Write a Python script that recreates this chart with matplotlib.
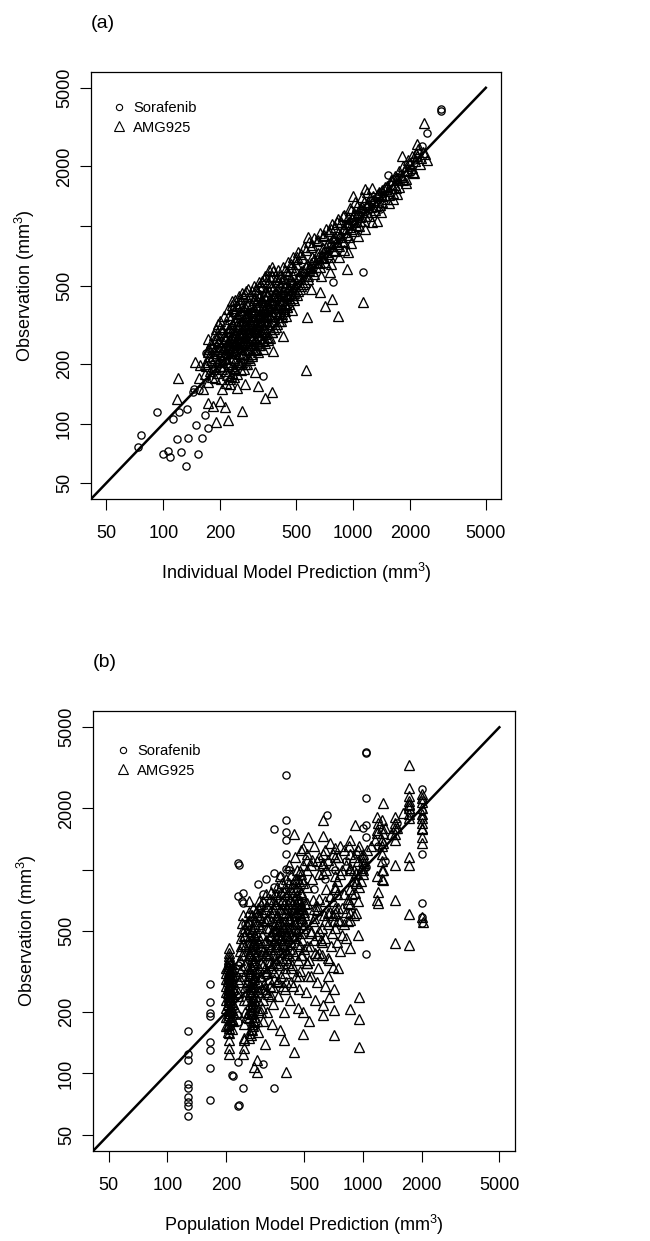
import numpy as np
import matplotlib
matplotlib.use("Agg")
import matplotlib.pyplot as plt
from matplotlib.lines import Line2D

plt.rcParams['font.family'] = ['Liberation Sans', 'DejaVu Sans']
plt.rcParams['mathtext.fontset'] = 'custom'
plt.rcParams['mathtext.rm'] = 'Liberation Sans'
plt.rcParams['mathtext.it'] = 'Liberation Sans'

ticks = [50, 100, 200, 500, 1000, 2000, 5000]
x_tick_labels = ['50', '100', '200', '500', '1000', '2000', '5000']
y_tick_labels = ['50', '100', '200', '500', '', '2000', '5000']

# panel (a): individual prediction vs observation
a_sorafenib = [
    (93, 115), (76, 88), (74, 76), (112, 106), (121, 114), (134, 118), (144, 144), (118, 84),
    (135, 85), (106, 73), (100, 70), (108, 68), (124, 72), (132, 61), (153, 70), (159, 85),
    (149, 98), (172, 95), (166, 111), (336, 175), (168, 227), (233, 366), (348, 545), (1126, 584),
    (783, 520), (2455, 2970), (2900, 3900), (2920, 3820), (2313, 2540), (2025, 1880), (1530, 1810),
    (1385, 1220), (145, 150), (155, 148), (180, 200), (190, 215), (205, 190), (215, 240), (225, 260),
    (240, 230), (250, 300), (260, 280), (275, 330), (290, 310), (300, 360), (320, 340), (340, 400),
    (360, 380), (400, 430), (430, 470), (470, 520), (520, 560), (600, 620), (700, 720), (800, 850),
    (900, 950), (1000, 1050), (1200, 1250), (1400, 1480), (1700, 1760), (2100, 2150), (2200, 2350),
    (230, 270), (255, 240), (280, 280), (305, 300), (330, 350), (350, 320), (380, 400), (420, 380),
    (460, 480), (500, 500), (550, 580), (650, 680), (750, 760), (850, 880), (950, 1000),
]
a_amg925 = [
    # scattered points
    (2365, 3334), (2172, 2606), (1811, 2266), (1622, 1371), (1337, 1059), (1156, 1541), (1000, 1420),
    (942, 738), (930, 605), (1130, 411), (834, 349), (713, 393), (775, 426), (670, 462), (580, 879),
    (757, 584), (270, 452), (231, 416), (398, 551), (507, 696), (261, 393), (573, 345), (566, 186),
    (379, 232), (428, 277), (316, 156), (344, 135), (375, 145), (261, 116), (220, 104), (190, 102),
    (120, 171), (118, 134), (147, 204), (155, 171), (173, 128), (183, 123), (200, 131), (212, 121),
    (305, 182), (270, 158), (245, 152), (225, 158), (195, 318), (171, 267), (157, 199), (171, 238),
    # dense cloud
    (162, 150), (165, 178), (168, 196), (172, 162), (176, 185), (178, 210), (181, 172), (184, 228),
    (186, 194), (189, 246), (191, 180), (194, 205), (197, 262), (199, 222), (202, 168), (204, 190),
    (206, 238), (208, 278), (211, 212), (213, 250), (215, 184), (218, 296), (220, 228), (222, 200),
    (224, 265), (226, 175), (228, 310), (230, 244), (232, 214), (234, 282), (236, 192), (238, 330),
    (240, 258), (242, 228), (244, 300), (246, 205), (248, 348), (250, 272), (252, 240), (254, 318),
    (256, 186), (258, 365), (260, 288), (262, 252), (264, 224), (266, 336), (268, 200), (270, 390),
    (272, 305), (274, 266), (276, 238), (278, 352), (280, 215), (283, 410), (285, 322), (287, 282),
    (290, 250), (292, 370), (294, 226), (297, 300), (300, 430), (302, 340), (305, 268), (308, 236),
    (310, 390), (313, 312), (316, 280), (319, 250), (322, 360), (325, 450), (328, 296), (331, 412),
    (334, 262), (337, 335), (340, 380), (344, 300), (348, 470), (352, 350), (356, 275), (360, 420),
    (364, 320), (368, 385), (372, 290), (376, 495), (380, 352), (385, 440), (390, 310), (395, 400),
    (400, 520), (405, 365), (410, 470), (415, 330), (420, 420), (425, 545), (430, 380), (436, 490),
    (442, 350), (448, 440), (455, 570), (462, 405), (470, 510), (478, 375), (486, 460), (495, 600),
    (196, 240), (206, 260), (216, 205), (226, 290), (236, 250), (246, 270), (256, 300), (266, 260),
    (276, 290), (286, 330), (296, 275), (306, 305), (316, 345), (326, 330), (336, 360), (346, 330),
    (356, 390), (366, 350), (376, 410), (386, 370), (396, 440), (188, 215), (198, 195), (208, 225),
    (218, 245), (228, 232), (238, 280), (248, 255), (258, 275), (268, 320), (278, 265), (288, 300),
    (298, 355), (308, 290), (318, 320), (328, 375), (338, 310), (350, 400), (362, 360), (374, 330),
    (392, 460), (408, 420), (424, 470), (440, 400), (460, 455), (480, 430), (250, 225), (260, 205),
    (240, 190), (230, 180), (280, 235), (300, 255), (320, 280), (340, 270), (270, 350), (290, 395),
    (310, 420), (265, 375), (245, 320), (225, 340), (215, 270), (205, 290), (195, 280), (185, 265),
    (175, 240), (200, 310), (255, 410), (235, 370),
    (182, 188), (187, 170), (192, 232), (195, 258), (201, 245), (203, 210), (209, 196), (212, 268),
    (214, 230), (217, 176), (219, 262), (221, 306), (223, 242), (225, 215), (227, 275), (229, 195),
    (231, 320), (233, 262), (235, 232), (237, 298), (239, 210), (241, 345), (243, 275), (245, 245),
    (247, 312), (249, 200), (251, 358), (253, 288), (255, 258), (257, 330), (259, 225), (261, 378),
    (263, 305), (265, 270), (267, 240), (269, 345), (271, 285), (273, 215), (275, 400), (277, 315),
    (279, 250), (281, 365), (284, 290), (286, 240), (288, 345), (291, 270), (293, 405), (295, 320),
    (298, 240), (301, 380), (303, 290), (306, 350), (309, 262), (311, 325), (314, 400), (317, 300),
    (320, 360), (323, 270), (326, 420), (329, 320), (332, 290), (335, 390), (339, 345), (342, 430),
    (345, 285), (349, 370), (353, 320), (357, 450), (361, 390), (365, 300), (369, 420), (373, 360),
    (377, 450), (382, 330), (387, 405), (392, 370), (397, 480), (402, 345), (407, 440), (412, 390),
    (418, 500), (423, 360), (429, 450), (435, 410), (441, 520), (447, 390), (453, 480), (459, 430),
    (466, 540), (473, 460), (480, 520), (488, 420), (496, 500),
    (170, 205), (175, 220), (180, 245), (185, 280), (190, 300), (200, 330), (210, 350), (220, 380),
    (230, 400), (240, 420), (250, 440), (260, 460), (280, 480), (300, 500), (320, 520), (340, 540),
    (360, 560), (380, 590), (165, 200), (172, 230), (178, 255), (192, 270), (203, 300), (213, 320),
    (223, 355), (233, 385), (243, 395), (253, 425), (263, 445), (273, 470), (285, 440), (295, 470),
    (308, 480), (318, 500), (330, 530), (345, 560), (360, 600), (375, 620), (205, 150), (215, 160),
    (225, 168), (235, 172), (245, 178), (255, 200), (265, 190), (275, 200), (285, 210), (295, 220),
    (305, 240), (315, 230), (325, 250), (335, 240), (345, 255), (355, 265), (365, 270), (375, 290),
    (385, 300), (395, 320), (405, 330), (420, 345), (435, 370), (450, 390), (465, 420), (480, 450),
    (495, 470),
    # upper band
    (505, 450), (514, 540), (523, 480), (533, 590), (543, 510), (553, 560), (563, 620), (575, 540),
    (587, 600), (599, 650), (612, 590), (625, 680), (640, 620), (655, 700), (670, 650), (690, 740),
    (705, 690), (720, 780), (740, 720), (760, 830), (780, 760), (800, 880), (825, 810), (850, 900),
    (875, 840), (900, 980), (925, 900), (950, 1050), (975, 960), (1000, 1120), (1030, 1010),
    (1060, 1180), (1090, 1060), (1120, 1250), (1160, 1120), (1200, 1330), (1240, 1180), (1280, 1410),
    (1320, 1260), (1370, 1480), (1420, 1330), (1480, 1580), (1540, 1430), (1600, 1700), (1680, 1560),
    (1760, 1820), (1840, 1700), (1930, 2000), (2030, 1960), (2150, 2350), (2280, 2200),
    (510, 470), (520, 560), (530, 500), (545, 600), (555, 520), (570, 640), (580, 560), (595, 610),
    (610, 700), (620, 570), (635, 660), (650, 730), (665, 620), (680, 700), (695, 770), (710, 660),
    (725, 740), (740, 820), (755, 700), (770, 790), (785, 870), (800, 750), (815, 830), (830, 920),
    (845, 790), (860, 880), (880, 970), (895, 830), (910, 930), (930, 1020), (950, 880), (965, 990),
    (985, 1080), (1005, 940), (1025, 1050), (1050, 1140), (1070, 1000), (1090, 1110), (1115, 1200),
    (1140, 1060), (1165, 1180), (1190, 1270), (1215, 1130), (1240, 1250), (1270, 1350), (1300, 1200),
    (1330, 1330), (1360, 1440), (1390, 1280), (1420, 1420), (1460, 1530), (1500, 1370), (1540, 1510),
    (1580, 1640), (1620, 1470), (1660, 1620), (1700, 1750), (1750, 1580), (1800, 1760), (1850, 1900),
    (1900, 1720), (1950, 1920), (2000, 2080), (2060, 1880), (2120, 2120), (2180, 2260), (2250, 2060),
    (2320, 2380), (2400, 2300), (2450, 2150),
    (600, 780), (650, 850), (700, 900), (760, 960), (820, 1050), (880, 1130), (960, 1230), (1020, 1320),
    (1110, 1400), (1180, 1480), (1250, 1560), (500, 640), (450, 590), (470, 620), (540, 690), (480, 560),
    (420, 520), (380, 480), (360, 470), (340, 440),
    (600, 480), (680, 560), (760, 640), (840, 700), (900, 760), (980, 820), (1060, 890), (1150, 970),
    (1250, 1050), (1400, 1180), (1550, 1300), (1700, 1450), (1900, 1650), (2100, 1850),
    (300, 420), (310, 460), (320, 440), (330, 490), (345, 470), (355, 520), (365, 500), (375, 560),
    (390, 540), (400, 600), (410, 560), (425, 620), (440, 600), (455, 660), (470, 640), (485, 700),
    (500, 680), (515, 740), (530, 720), (550, 780), (565, 760), (585, 830), (605, 800), (625, 870),
    (645, 840), (670, 920), (695, 890), (720, 960), (745, 940), (775, 1020), (805, 990), (835, 1080),
    (865, 1050), (900, 1140), (935, 1110), (970, 1200), (1010, 1170), (1050, 1260), (1090, 1230),
    (1135, 1320), (1180, 1290), (1230, 1390), (1290, 1360), (1350, 1460), (1420, 1520), (1500, 1600),
    (1580, 1700), (1660, 1800), (1750, 1900), (1840, 2000), (1950, 2150), (2050, 2250), (2200, 2450),
]

# panel (b): population prediction vs observation
b_sorafenib = [
    (128, 162), (128, 124), (128, 117), (128, 89), (128, 85), (128, 77), (128, 72), (128, 69), (128, 62),
    (166, 276), (166, 225), (166, 199), (166, 192), (166, 142), (166, 130), (166, 106), (166, 74),
    (231, 341), (231, 194), (231, 178), (231, 114), (231, 69), (232, 70), (215, 98), (216, 97), (245, 85),
    (350, 85), (308, 111), (1040, 385), (231, 1073), (232, 1060), (231, 742), (245, 767), (245, 686),
    (250, 541), (260, 541), (260, 489), (307, 758), (350, 960), (350, 820), (403, 1190), (403, 1005),
    (403, 1393), (403, 1523), (403, 1762), (403, 2924), (350, 1592), (653, 1845), (417, 993), (376, 929),
    (1038, 3795), (1040, 3720), (1038, 2260), (1038, 1027), (2008, 2500), (2008, 1190), (2008, 686),
    (2008, 585), (2008, 547),
    (212, 175), (212, 195), (212, 215), (212, 240), (212, 265), (212, 290), (212, 320), (270, 200),
    (270, 230), (270, 260), (270, 300), (270, 350), (275, 420), (300, 260), (320, 300), (350, 380),
    (380, 450), (420, 520), (460, 600), (500, 700), (560, 800), (640, 900), (720, 1000), (820, 1100),
    (920, 1200), (1000, 1600), (1040, 1650), (1040, 1450), (1200, 1300), (1300, 1100), (1500, 1700),
    (1750, 1900), (2008, 1800), (2008, 2200), (2008, 1950),
    (220, 250), (225, 300), (235, 350), (255, 260), (280, 310), (300, 400), (330, 450), (360, 500),
    (390, 560), (430, 620), (470, 700), (330, 350), (400, 400), (450, 500), (350, 600), (300, 650),
    (260, 600), (240, 700), (290, 850), (320, 900),
]
b_amg925 = [
    (1722, 3273), (1722, 2529), (1722, 2183), (1722, 2067), (1722, 1886), (2008, 2360), (2008, 2140),
    (2008, 1800), (2008, 1610), (2008, 1346), (1268, 2113), (624, 1762), (443, 1489), (522, 1440),
    (624, 1460), (492, 1272), (718, 1272), (910, 1648), (857, 1393), (1180, 1804), (1459, 1804),
    (1459, 1393), (1459, 1050), (1722, 1150), (1722, 1050), (1459, 708), (1722, 605), (2008, 585),
    (1194, 776), (1194, 686), (921, 960), (910, 767), (857, 566), (1459, 436), (1722, 426), (2031, 552),
    (942, 477), (857, 413), (953, 238), (953, 186), (953, 135), (857, 208), (710, 260), (710, 205),
    (638, 269), (670, 238), (624, 217), (624, 194), (710, 155), (528, 181), (492, 201), (492, 157),
    (443, 127), (403, 102), (397, 146), (378, 164), (567, 390), (516, 348), (702, 333), (661, 369),
    (581, 477), (744, 566), (376, 929), (438, 820), (516, 1110), (547, 1110), (516, 820), (624, 1200),
    (624, 960), (624, 1073), (718, 929), (718, 820), (857, 1200), (857, 1016), (921, 859), (1180, 1560),
    (1180, 1520), (1268, 1507), (1268, 1346), (1268, 993), (1268, 888), (1180, 929), (1180, 708),
    (2008, 1592), (2008, 1886), (296, 585), (322, 566), (362, 585), (389, 612), (408, 652),
    (438, 686), (475, 612), (516, 686), (554, 708), (581, 632), (661, 612), (718, 612), (744, 652),
    (838, 686), (857, 612), (921, 612),
    (207, 412), (207, 390), (207, 146), (207, 134), (207, 124), (286, 102), (276, 108), (286, 117),
    (248, 134), (248, 146), (314, 139),
    # dense columns
    (205, 160), (207, 168), (206, 175), (208, 182), (205, 190), (207, 198), (206, 205), (208, 212),
    (205, 220), (207, 228), (206, 236), (208, 244), (205, 252), (207, 260), (206, 270), (208, 280),
    (205, 290), (207, 300), (206, 312), (208, 325), (205, 338), (207, 352), (206, 366),
    (207, 158), (205, 172), (208, 186), (206, 194), (207, 203), (205, 216), (208, 224), (206, 232),
    (207, 240), (205, 248), (208, 256), (206, 264), (207, 275), (205, 285), (208, 295), (206, 305),
    (207, 318), (205, 330), (208, 345), (206, 358), (207, 375),
    (200, 170), (200, 190), (200, 210), (200, 230), (200, 250), (200, 270), (200, 290), (200, 310),
    (200, 330), (213, 165), (213, 185), (213, 205), (213, 225), (213, 245), (213, 265), (213, 285),
    (213, 305), (213, 325), (213, 345), (217, 180), (217, 200), (217, 220), (217, 240), (217, 260),
    (217, 280), (217, 300), (217, 320),
    (262, 150), (265, 158), (268, 166), (272, 174), (275, 182), (278, 190), (263, 198), (266, 206),
    (270, 214), (274, 222), (277, 230), (280, 240), (264, 250), (268, 260), (271, 270), (275, 280),
    (279, 292), (262, 305), (266, 318), (270, 330), (274, 345), (278, 360), (282, 375), (265, 390),
    (269, 410), (273, 430), (277, 450), (281, 470), (285, 495),
    (267, 155), (270, 163), (273, 171), (276, 179), (263, 187), (269, 195), (272, 203), (278, 211),
    (265, 219), (271, 227), (275, 236), (268, 245), (273, 255), (277, 265), (266, 276), (270, 287),
    (276, 298), (264, 312), (272, 324), (268, 338), (276, 352), (270, 367), (266, 382), (274, 398),
    (271, 420), (279, 440), (283, 460), (276, 480), (270, 510), (282, 530),
    (245, 125), (248, 150), (246, 175), (249, 200), (247, 230), (250, 265), (246, 300), (249, 340),
    (247, 380), (250, 420), (246, 470), (249, 520), (231, 250), (236, 290), (240, 330), (234, 400),
    (238, 460),
    (228, 200), (230, 240), (232, 280), (234, 320), (236, 360), (238, 420), (240, 500), (242, 550),
    (244, 600), (252, 190), (254, 230), (256, 280), (258, 330), (260, 380), (262, 440), (256, 500),
    (258, 560), (260, 620), (288, 180), (290, 230), (292, 280), (294, 330), (296, 380), (298, 450),
    (300, 520), (286, 600), (290, 650), (295, 700),
    # main cloud
    (290, 160), (292, 205), (295, 250), (297, 300), (300, 350), (302, 420), (305, 480), (308, 180),
    (310, 228), (312, 275), (315, 330), (318, 390), (320, 450), (322, 520), (325, 200), (328, 245),
    (330, 290), (333, 350), (336, 410), (338, 470), (340, 560), (343, 175), (346, 220), (349, 265),
    (352, 315), (355, 370), (358, 430), (361, 500), (364, 600), (367, 240), (370, 285), (374, 340),
    (378, 395), (382, 460), (386, 530), (390, 640), (394, 200), (398, 260), (402, 310), (406, 370),
    (410, 430), (414, 500), (418, 580), (422, 700), (426, 230), (430, 280), (435, 340), (440, 400),
    (445, 470), (450, 540), (455, 620), (460, 750), (466, 210), (472, 260), (478, 320), (484, 380),
    (490, 450), (496, 520), (502, 600), (508, 680), (515, 250), (522, 300), (530, 360), (538, 420),
    (546, 490), (554, 560), (562, 640), (570, 230), (580, 280), (590, 330), (600, 390), (610, 450),
    (620, 520), (630, 600), (640, 700), (650, 800), (660, 300), (672, 360), (684, 420), (696, 490),
    (708, 560), (720, 650), (735, 760), (750, 330), (765, 400), (780, 480), (800, 540), (820, 620),
    (840, 720), (860, 800), (880, 880), (900, 1000), (950, 1100), (1000, 1200), (960, 1300),
    (300, 200), (310, 260), (320, 310), (330, 380), (340, 240), (350, 290), (360, 350), (370, 420),
    (380, 500), (390, 270), (400, 330), (410, 390), (420, 460), (430, 330), (440, 270), (450, 380),
    (460, 430), (470, 300), (480, 490), (500, 410), (520, 350), (540, 300), (560, 450), (580, 380),
    (600, 500), (620, 440), (640, 560), (680, 620), (700, 700), (720, 800), (740, 880), (760, 950),
    (780, 1000), (820, 1050), (860, 1000), (900, 1150), (940, 1250), (980, 1000), (1000, 1100),
    (1050, 1250), (1100, 1300), (1150, 1400), (1200, 1700), (1300, 1600), (1400, 1500), (1500, 1600),
    (1600, 1900), (1722, 1800), (1722, 2300),
    (305, 210), (315, 260), (325, 320), (335, 270), (345, 340), (355, 410), (365, 280), (375, 360),
    (385, 430), (395, 520), (405, 280), (415, 350), (425, 410), (435, 480), (445, 560), (455, 300),
    (465, 360), (475, 420), (485, 560), (495, 640), (305, 620), (315, 560), (325, 660), (335, 720),
    (345, 620), (355, 680), (365, 760), (375, 560), (385, 700), (395, 780), (405, 620), (415, 680),
    (425, 800), (435, 600), (445, 720), (455, 680), (465, 820), (475, 700), (485, 760), (495, 860),
    (310, 400), (320, 250), (330, 430), (340, 330), (350, 500), (360, 420), (370, 550), (380, 300),
    (390, 450), (400, 560), (410, 470), (420, 380), (430, 520), (440, 640), (450, 460), (460, 560),
    (470, 650), (480, 580), (490, 380), (500, 540),
    (520, 420), (540, 500), (560, 580), (580, 660), (600, 720), (620, 380), (640, 460), (660, 540),
    (680, 740), (700, 600), (720, 520), (740, 440), (760, 560), (780, 650), (800, 760), (820, 460),
    (840, 560), (860, 680), (880, 760), (900, 600), (920, 880), (940, 700), (960, 820), (980, 880),
    (550, 900), (600, 950), (650, 1000), (700, 1050), (750, 1150), (800, 1250), (850, 1300),
    (520, 1000), (480, 950), (460, 900),
    (240, 380), (245, 430), (250, 480), (255, 540), (260, 700), (265, 560), (270, 600), (275, 650),
    (280, 560), (285, 620), (290, 540), (295, 600), (300, 680), (305, 560), (310, 700), (315, 640),
    (320, 760), (325, 580), (330, 700), (335, 620), (340, 780), (345, 700), (350, 640), (355, 760),
    (360, 680), (365, 820), (370, 720), (375, 640), (380, 780), (385, 860), (390, 720), (395, 680),
    (400, 820), (405, 900), (410, 760), (415, 600), (420, 860), (425, 720), (430, 940), (435, 780),
    (440, 860), (445, 640), (450, 900), (455, 800), (460, 1000), (465, 720), (470, 880), (475, 980),
    (480, 780), (485, 660), (490, 900), (495, 1050),
    (260, 420), (265, 470), (280, 420), (285, 380), (290, 440), (300, 300), (305, 380), (310, 340),
    (315, 440), (320, 380), (330, 520), (335, 480), (340, 420), (345, 500), (350, 450), (355, 540),
    (360, 460), (365, 520), (370, 480), (375, 460), (380, 540), (385, 480), (390, 360), (395, 420),
    (400, 480), (410, 520), (420, 560), (430, 440), (440, 520), (450, 600), (460, 500), (470, 560),
    (480, 640), (490, 580), (500, 620),
    (420, 1050), (450, 1150), (480, 1250), (520, 1200), (560, 1300), (600, 1150), (640, 1250),
    (680, 1350), (720, 1150), (760, 1300), (540, 1050), (580, 1100), (620, 1060), (660, 1120),
    (700, 1200),
    (1000, 950), (1000, 1000), (1000, 1050), (1000, 1150), (990, 1020), (1010, 1080),
    (1250, 900), (1250, 1000), (1250, 1100), (1250, 1200), (1250, 1300), (1250, 1400), (1250, 1600),
    (1250, 1750), (1459, 1500), (1459, 1600), (1459, 1700), (1722, 2000), (1722, 2100), (2008, 2000),
    (2008, 2250), (2008, 1700), (2008, 1450),
]

panels = [
    ([0.1400, 0.5979, 0.6308, 0.3441], a_sorafenib, a_amg925, '(a)',
     'Individual Model Prediction (mm$^{3}$)', (0.050, 0.931)),
    ([0.1431, 0.0725, 0.6492, 0.3546], b_sorafenib, b_amg925, '(b)',
     'Population Model Prediction (mm$^{3}$)', (0.054, 0.924)),
]

fig = plt.figure(figsize=(6.5, 12.41), dpi=100)
for rect, sor, amg, tag, xlab, leg_at in panels:
    ax = fig.add_axes(rect)
    sor = np.array(sor)
    amg = np.array(amg)
    ax.plot(amg[:, 0], amg[:, 1], '^', ms=7, mfc='none', mec='black', mew=0.95)
    ax.plot(sor[:, 0], sor[:, 1], 'o', ms=5.2, mfc='none', mec='black', mew=0.95)
    ax.plot([30, 5000], [30, 5000], color='black', lw=1.8)
    ax.set_xscale('log')
    ax.set_yscale('log')
    ax.set_xlim(41.6, 6012)
    ax.set_ylim(41.6, 6012)
    ax.minorticks_off()
    ax.set_xticks(ticks)
    ax.set_xticklabels(x_tick_labels)
    ax.set_yticks(ticks)
    ax.set_yticklabels(y_tick_labels, rotation=90, va='center')
    ax.tick_params(length=8, width=0.8, labelsize=13)
    ax.tick_params(axis='x', pad=10.5)
    ax.tick_params(axis='y', pad=5)
    for s in ax.spines.values():
        s.set_linewidth(0.9)
    ax.set_xlabel(xlab, fontsize=13, labelpad=14)
    ax.set_ylabel('Observation (mm$^{3}$)', fontsize=13, labelpad=14)
    handles = [Line2D([], [], ls='none', marker='o', ms=4.5, mfc='none', mec='black', mew=0.8),
               Line2D([], [], ls='none', marker='^', ms=6.6, mfc='none', mec='black', mew=0.8)]
    ax.legend(handles, ['Sorafenib', 'AMG925'], loc='upper left', bbox_to_anchor=leg_at,
              frameon=False, fontsize=10.6, handlelength=1.0, handletextpad=0.45,
              labelspacing=0.35, borderpad=0, borderaxespad=0)
    pos = ax.get_position()
    fig.text(pos.x0, pos.y1 + 48 / 1241, tag, fontsize=14, va='center', ha='left')

fig.savefig('out.png', dpi=100)
